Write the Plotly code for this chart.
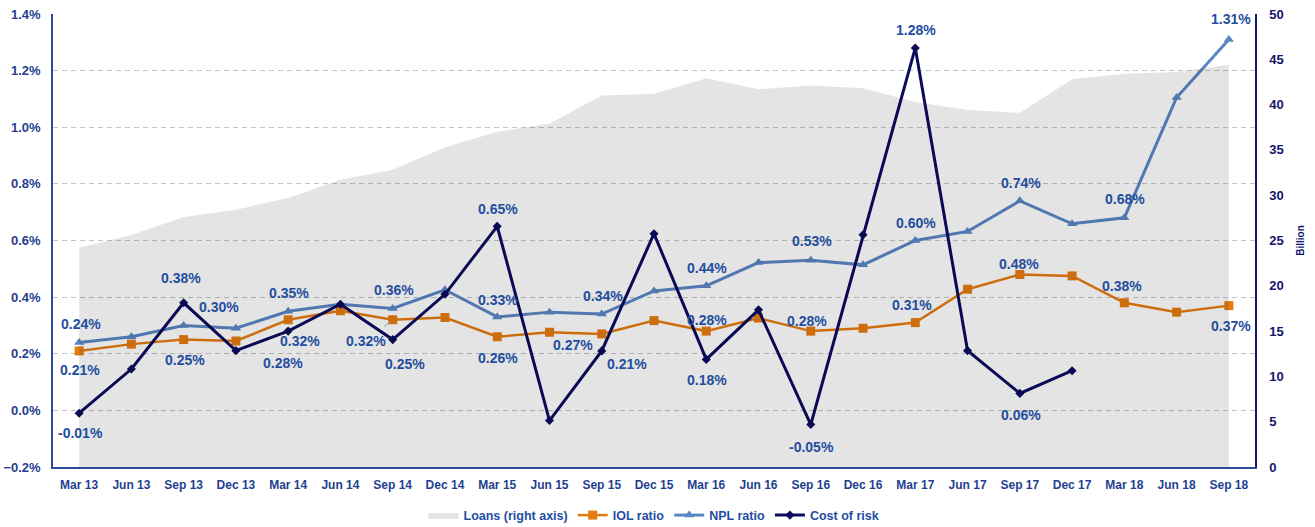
import plotly.graph_objects as go

categories = ["Mar 13", "Jun 13", "Sep 13", "Dec 13", "Mar 14", "Jun 14", "Sep 14", "Dec 14",
              "Mar 15", "Jun 15", "Sep 15", "Dec 15", "Mar 16", "Jun 16", "Sep 16", "Dec 16",
              "Mar 17", "Jun 17", "Sep 17", "Dec 17", "Mar 18", "Jun 18", "Sep 18"]

loans_bn = [24.2, 25.6, 27.6, 28.4, 29.7, 31.7, 32.8, 35.3, 37.0, 37.9, 41.0, 41.2,
            42.9, 41.7, 42.1, 41.8, 40.3, 39.4, 39.1, 42.8, 43.4, 43.6, 44.4]

iol_ratio = [0.21, 0.234, 0.25, 0.245, 0.32, 0.352, 0.32, 0.328, 0.26, 0.276, 0.27, 0.317,
             0.28, 0.326, 0.28, 0.29, 0.31, 0.428, 0.48, 0.475, 0.38, 0.347, 0.37]

npl_ratio = [0.24, 0.26, 0.30, 0.29, 0.35, 0.375, 0.36, 0.426, 0.33, 0.347, 0.34, 0.422,
             0.44, 0.522, 0.53, 0.514, 0.60, 0.632, 0.74, 0.659, 0.68, 1.105, 1.31]

cost_of_risk = [-0.01, 0.146, 0.38, 0.211, 0.28, 0.375, 0.25, 0.41, 0.65, -0.036, 0.21, 0.624,
                0.18, 0.355, -0.05, 0.62, 1.28, 0.211, 0.06, 0.14, None, None, None]

# data labels: (series, category index, x offset px, y offset px (down positive), leader)
label_specs = [
    ("npl", 0, 2, -18, False), ("iol", 0, 1, 19, False), ("cor", 0, 1, 20, False),
    ("cor", 2, -3, -25, False), ("npl", 2, 35, -18, False), ("iol", 2, 1, 20, False),
    ("npl", 4, 1, -18, False), ("iol", 4, 12, 21, True), ("cor", 4, -5, 32, False),
    ("npl", 6, 1, -18, False), ("iol", 6, -27, 21, True), ("cor", 6, 12, 24, False),
    ("cor", 8, 1, -17, False), ("npl", 8, 1, -17, False), ("iol", 8, 1, 21, False),
    ("npl", 10, 1, -18, False), ("iol", 10, -29, 11, False), ("cor", 10, 25, 13, False),
    ("npl", 12, 1, -18, False), ("iol", 12, 1, -11, False), ("cor", 12, 1, 21, False),
    ("npl", 14, 1, -19, False), ("iol", 14, -4, -10, False), ("cor", 14, 1, 22, False),
    ("cor", 16, 1, -18, False), ("npl", 16, 1, -18, False), ("iol", 16, -3, -18, False),
    ("npl", 18, 1, -18, False), ("iol", 18, -1, -10, False), ("cor", 18, 1, 22, False),
    ("npl", 20, 1, -19, False), ("iol", 20, -2, -17, False),
    ("npl", 22, 2, -20, False), ("iol", 22, 2, 20, False),
]

series_map = {"iol": iol_ratio, "npl": npl_ratio, "cor": cost_of_risk}

LABEL_BLUE = "#1f4e9f"
AXIS_BLUE = "#1f3f90"
NAVY = "#15156b"
FONT = "Liberation Sans, Arial, sans-serif"

fig = go.Figure()

fig.add_trace(go.Scatter(
    x=categories, y=loans_bn, name="Loans (right axis)", yaxis="y2",
    mode="lines", fill="tozeroy", line=dict(width=0, color="rgba(0,0,0,0)"),
    fillcolor="rgba(0,0,0,0.105)", hoverinfo="skip"))

fig.add_trace(go.Scatter(
    x=categories, y=iol_ratio, name="IOL ratio", mode="lines+markers",
    line=dict(color="#e67c10", width=2.5),
    marker=dict(symbol="square", size=9, color="#e67c10")))

fig.add_trace(go.Scatter(
    x=categories, y=npl_ratio, name="NPL ratio", mode="lines+markers",
    line=dict(color="#5a86c4", width=3),
    marker=dict(symbol="triangle-up", size=9, color="#5a86c4")))

fig.add_trace(go.Scatter(
    x=categories, y=cost_of_risk, name="Cost of risk", mode="lines+markers",
    line=dict(color="#0c0c5f", width=3),
    marker=dict(symbol="diamond", size=7, color="#0c0c5f"),
    connectgaps=False))

annotations = []
for key, i, dx, dy, leader in label_specs:
    v = series_map[key][i]
    txt = f"{v:.2f}%"
    lf = dict(family=FONT, size=14, color=LABEL_BLUE, weight="bold")
    if leader:
        annotations.append(dict(
            x=categories[i], y=v, xref="x", yref="y", text=txt,
            showarrow=True, ax=dx, ay=dy, arrowhead=0, arrowwidth=1,
            arrowcolor="#9a9a9a", standoff=3, startstandoff=8, font=lf))
    else:
        annotations.append(dict(
            x=categories[i], y=v, xref="x", yref="y", text=txt,
            showarrow=False, xshift=dx, yshift=-dy, font=lf))

fig.update_layout(
    width=1315, height=527,
    margin=dict(l=53, r=60, t=14, b=60, autoexpand=False),
    paper_bgcolor="white", plot_bgcolor="white",
    font=dict(family=FONT, size=12, color=LABEL_BLUE),
    showlegend=True,
    legend=dict(orientation="h", x=0.5, xanchor="center", y=-0.107, yanchor="middle",
                font=dict(family=FONT, size=12.5, color=LABEL_BLUE, weight="bold"),
                itemwidth=30, tracegroupgap=0, bgcolor="rgba(0,0,0,0)"),
    xaxis=dict(type="category", range=[-0.5, 22.5], showgrid=False, automargin=False,
               showline=True, linecolor="#2a4a9a", linewidth=1.5,
               ticks="outside", ticklen=6, tickcolor="rgba(0,0,0,0)",
               tickfont=dict(family=FONT, size=12, color=AXIS_BLUE, weight="bold")),
    yaxis=dict(range=[-0.2, 1.4], dtick=0.2, tick0=0, tickformat=".1f", ticksuffix="%",
               automargin=False,
               showgrid=True, gridcolor="#c4c4c4", gridwidth=1, griddash="5px,4px",
               zeroline=False, showline=True, linecolor="#2a4a9a", linewidth=1.5,
               ticks="outside", ticklen=8, tickcolor="rgba(0,0,0,0)",
               tickfont=dict(family=FONT, size=13, color=AXIS_BLUE, weight="bold")),
    yaxis2=dict(range=[0, 50], dtick=5, overlaying="y", side="right", automargin=False,
                showgrid=False, zeroline=False, showline=True, linecolor=NAVY, linewidth=1.5,
                ticks="outside", ticklen=10, tickcolor="rgba(0,0,0,0)",
                tickfont=dict(family=FONT, size=13, color=NAVY, weight="bold"),
                title=dict(text="Billion", standoff=14,
                           font=dict(family=FONT, size=10, color=NAVY, weight="bold"))),
    annotations=annotations,
)

fig.write_html("out.html",
               config={"displayModeBar": False},
               post_script="document.body.style.margin='0';document.body.style.overflow='hidden';")
